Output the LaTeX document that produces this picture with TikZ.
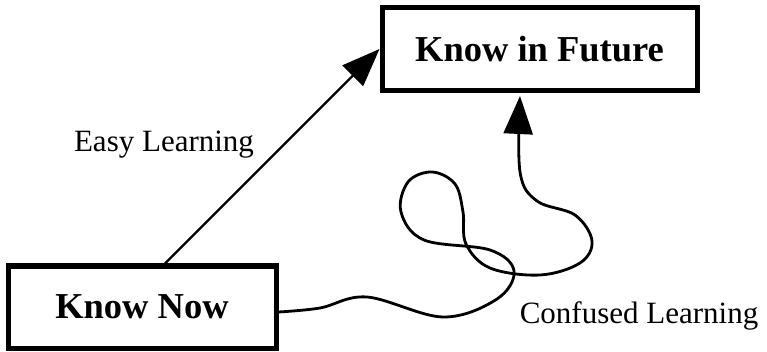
\documentclass[tikz,border=0pt]{standalone}
\usepackage{fontspec}
\setmainfont{Liberation Serif}
\usetikzlibrary{arrows.meta,calc}
\tikzset{
  box/.style={draw, line width=5pt, inner sep=0pt, text depth=0pt, font=\fontsize{36.5}{40}\selectfont\bfseries},
  lbl/.style={anchor=base, inner sep=0pt, font=\fontsize{31}{36}\selectfont},
  bigtip/.style={-{Triangle[length=38pt,width=29pt]}},
}
\begin{document}
\begin{tikzpicture}[x=1pt,y=-1pt]
\useasboundingbox (0,0) rectangle (767,352);
\node[box, minimum width=268pt, minimum height=82pt] (now) at (142,307) {Know Now};
\node[box, minimum width=315pt, minimum height=83pt] (fut) at (539.5,49) {Know in Future};
\node[lbl] (easy) at (164,152) {Easy Learning};
\node[lbl] (conf) at (639,323) {Confused Learning};
\coordinate (estart) at ($(now.north)+(23,0)$);
\draw[bigtip, line width=2.4pt] (estart) -- (fut.west);
\coordinate (cstart) at ($(now.east)+(0,5)$);
\coordinate (ctip) at ($(fut.south)+(-19.5,3)$);
\draw[bigtip, line width=2.8pt, line cap=round] plot[smooth, tension=0.6] coordinates {
  (cstart) (320,308) (367,297) (443,317) (497,299) (514,271) (490,250)
  (424,240) (401,212) (408,182) (432,172) (455,184) (463,212) (466,244)
  (490,268) (540,275) (580,263) (592,241) (575,215) (537,201) (520,172) (ctip)};
\end{tikzpicture}
\end{document}
